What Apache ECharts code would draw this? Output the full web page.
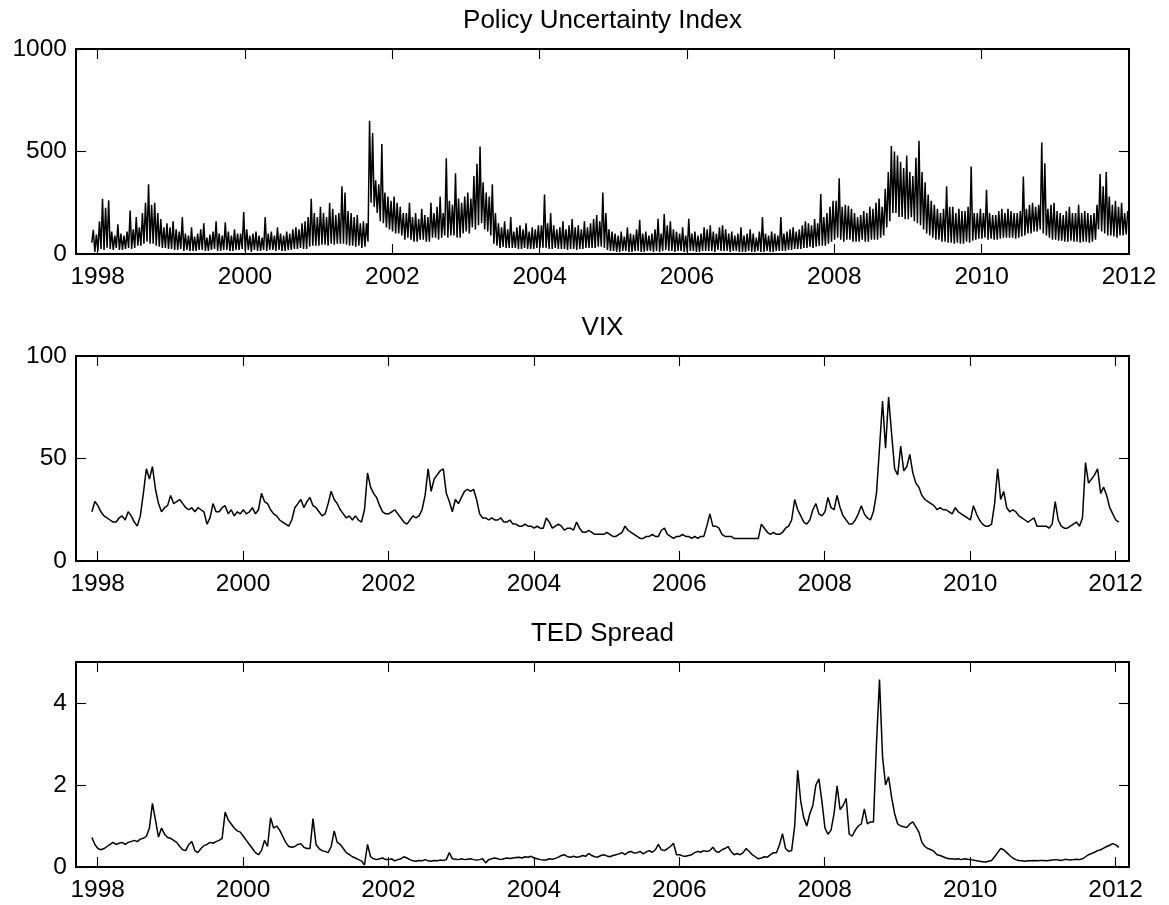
<!DOCTYPE html>
<html>
<head>
<meta charset="utf-8">
<title>Policy Uncertainty Index, VIX, TED Spread</title>
<script src="https://cdn.jsdelivr.net/npm/echarts@6/dist/echarts.min.js"></script>
<style>
  html, body { margin: 0; padding: 0; background: #fff; }
  #chart { width: 1169px; height: 905px; }
</style>
</head>
<body>
<div id="chart"></div>
<script>
  // samples are half-monthly, starting December 1997
  var startYear = 1997.92;
  var perYear = 24;

  var titles = ['Policy Uncertainty Index', 'VIX', 'TED Spread'];
  var yearTicks = [1998, 2000, 2002, 2004, 2006, 2008, 2010, 2012];
  var epuTicks = [0, 500, 1000];
  var vixTicks = [0, 50, 100];
  var tedTicks = [0, 2, 4];

  /* policy uncertainty: bottom and top of the daily band, per half month */
  var epuLow = [
    55, 10,
    15, 25, 20, 30, 25, 20, 30, 20, 20, 25, 30, 25, 30, 40, 40, 50, 60, 50, 50, 40, 35, 30, 30, 25,
    25, 20, 20, 25, 15, 20, 15, 15, 15, 20, 20, 15, 15, 20, 25, 15, 15, 20, 20, 15, 15, 20, 20, 25,
    15, 20, 10, 20, 15, 15, 20, 15, 20, 20, 15, 20, 15, 15, 20, 20, 25, 25, 30, 25, 25, 35, 40, 40,
    40, 45, 45, 40, 50, 45, 50, 50, 50, 45, 40, 40, 35, 40, 30, 35, 60, 250, 230, 200, 160, 150, 130, 120,
    110, 100, 100, 90, 70, 80, 70, 60, 60, 70, 70, 60, 60, 80, 80, 70, 80, 90, 80, 90, 90, 80, 80, 100,
    110, 100, 130, 120, 140, 150, 120, 110, 90, 50, 40, 30, 35, 30, 30, 30, 30, 25, 25, 30, 25, 25, 25, 30,
    30, 30, 30, 25, 25, 30, 25, 25, 25, 20, 25, 25, 20, 25, 25, 30, 30, 30, 30, 35, 35, 30, 20, 15,
    15, 10, 10, 15, 15, 10, 10, 15, 15, 10, 10, 15, 15, 10, 15, 10, 15, 20, 15, 15, 10, 15, 15, 10,
    10, 15, 15, 10, 10, 15, 15, 15, 15, 10, 20, 15, 15, 15, 10, 15, 15, 10, 10, 10, 15, 10, 10, 15,
    10, 10, 15, 10, 10, 15, 15, 15, 15, 20, 20, 25, 25, 25, 30, 30, 35, 30, 35, 40, 40, 40, 50, 60,
    70, 80, 70, 60, 70, 70, 60, 60, 60, 70, 60, 60, 70, 70, 70, 80, 90, 130, 160, 200, 200, 180, 180, 170,
    170, 180, 160, 150, 140, 120, 100, 90, 80, 70, 70, 60, 60, 55, 55, 50, 55, 50, 50, 60, 55, 65, 70, 75,
    75, 80, 70, 75, 70, 70, 75, 80, 80, 80, 80, 75, 80, 85, 90, 100, 100, 110, 110, 120, 100, 90, 80, 70,
    70, 65, 65, 60, 60, 65, 60, 60, 55, 60, 60, 55, 60, 70, 120, 110, 100, 90, 90, 85, 80, 90, 90, 95
  ];
  var epuHigh = [
    118, 95,
    160, 270, 225, 262, 110, 90, 145, 100, 90, 110, 212, 120, 180, 130, 200, 250, 340, 240, 250, 200, 170, 130, 150, 130,
    160, 120, 110, 180, 100, 90, 130, 85, 100, 120, 150, 80, 95, 110, 160, 100, 90, 155, 110, 90, 120, 100, 100, 205,
    120, 90, 100, 110, 90, 80, 180, 100, 110, 90, 130, 100, 90, 110, 100, 120, 130, 120, 150, 160, 180, 270, 200, 180,
    230, 200, 180, 250, 220, 190, 200, 330, 300, 210, 200, 180, 190, 150, 160, 150, 650, 590, 360, 340, 537, 300, 280, 260,
    280, 250, 230, 200, 200, 250, 180, 200, 170, 220, 190, 180, 250, 200, 230, 280, 200, 467, 260, 240, 394, 270, 250, 280,
    300, 270, 380, 440, 524, 350, 300, 280, 340, 200, 150, 130, 160, 120, 180, 110, 130, 140, 120, 150, 110, 130, 120, 140,
    140, 290, 150, 200, 140, 120, 130, 160, 120, 140, 170, 130, 140, 120, 160, 130, 150, 170, 190, 160, 300, 200, 120, 110,
    100, 90, 110, 85, 130, 100, 95, 120, 167, 100, 110, 90, 100, 120, 172, 100, 195, 140, 160, 120, 110, 100, 130, 90,
    172, 100, 110, 90, 100, 130, 120, 140, 110, 100, 130, 140, 120, 100, 110, 90, 100, 130, 90, 100, 120, 100, 80, 110,
    180, 100, 90, 110, 100, 90, 180, 100, 110, 120, 130, 110, 120, 140, 160, 150, 140, 170, 150, 292, 180, 200, 230, 260,
    260, 370, 230, 240, 235, 220, 200, 180, 190, 210, 200, 230, 220, 250, 270, 230, 318, 400, 527, 500, 480, 450, 420, 480,
    400, 380, 470, 552, 400, 350, 290, 260, 240, 220, 200, 220, 330, 230, 230, 200, 220, 210, 210, 230, 427, 200, 200, 220,
    200, 313, 200, 190, 190, 210, 220, 200, 220, 210, 200, 200, 210, 378, 220, 240, 250, 230, 240, 544, 443, 220, 240, 250,
    210, 200, 190, 210, 230, 200, 200, 240, 200, 210, 200, 190, 200, 240, 390, 330, 400, 280, 240, 260, 230, 250, 200, 210
  ];

  /* VIX, half-monthly, Dec 1997 - Jan 2012 */
  var vix = [
    24, 29,
    27, 24, 22, 21, 20, 19, 19, 21, 22, 20, 24, 22, 19, 17, 22, 33, 45, 40, 46, 35, 28, 24, 26, 27,
    32, 28, 29, 30, 28, 26, 25, 26, 24, 26, 25, 24, 18, 21, 28, 24, 24, 26, 27, 23, 25, 22, 24, 23,
    25, 23, 24, 26, 23, 25, 33, 29, 28, 25, 23, 22, 20, 19, 18, 17, 20, 26, 28, 30, 26, 29, 31, 27,
    26, 24, 22, 23, 28, 34, 30, 28, 25, 23, 21, 22, 20, 22, 20, 19, 25, 43, 36, 33, 31, 27, 24, 23,
    23, 24, 25, 23, 21, 19, 18, 20, 22, 21, 22, 25, 32, 45, 34, 40, 42, 44, 45, 33, 29, 24, 30, 28,
    31, 34, 35, 34, 35, 30, 23, 21, 21, 20, 21, 20, 20, 21, 19, 19, 20, 18, 18, 17, 17, 18, 17, 17,
    16, 17, 16, 16, 21, 19, 16, 17, 18, 17, 15, 16, 16, 15, 19, 16, 14, 14, 15, 14, 13, 13, 13, 13,
    14, 13, 12, 12, 13, 14, 17, 15, 14, 13, 12, 11, 11, 12, 12, 13, 12, 12, 15, 16, 13, 12, 11, 12,
    12, 13, 12, 12, 11, 12, 11, 12, 12, 17, 23, 17, 17, 16, 13, 12, 12, 12, 11, 11, 11, 11, 11, 11,
    11, 11, 11, 18, 16, 14, 13, 14, 13, 13, 14, 16, 17, 20, 30, 25, 22, 19, 18, 20, 25, 28, 23, 22,
    24, 31, 26, 25, 32, 26, 22, 20, 18, 18, 20, 23, 27, 23, 21, 20, 24, 33, 55, 78, 55, 80, 62, 45,
    42, 56, 44, 46, 52, 43, 38, 36, 32, 30, 29, 28, 27, 25, 26, 25, 25, 24, 23, 26, 24, 23, 22, 21,
    20, 27, 23, 20, 18, 17, 17, 18, 28, 45, 30, 34, 26, 24, 25, 24, 22, 21, 20, 19, 20, 21, 17, 17,
    17, 17, 16, 18, 29, 20, 17, 16, 16, 17, 18, 19, 17, 21, 48, 38, 40, 42, 45, 33, 36, 32, 26, 23,
    20, 19
  ];

  /* TED spread, half-monthly, Dec 1997 - Jan 2012 */
  var ted = [
    0.72, 0.55,
    0.45, 0.42, 0.45, 0.5, 0.55, 0.6, 0.55, 0.58, 0.6, 0.55, 0.6, 0.62, 0.65, 0.62, 0.68, 0.7, 0.75, 0.95, 1.55, 1.15, 0.73, 0.95, 0.8, 0.72,
    0.7, 0.65, 0.6, 0.5, 0.42, 0.4, 0.55, 0.62, 0.4, 0.35, 0.45, 0.52, 0.55, 0.6, 0.58, 0.62, 0.65, 0.7, 1.34, 1.15, 1.05, 0.95, 0.88, 0.85,
    0.75, 0.65, 0.55, 0.45, 0.35, 0.3, 0.4, 0.65, 0.5, 1.2, 0.95, 1.0, 0.9, 0.75, 0.6, 0.5, 0.48, 0.5, 0.55, 0.57, 0.48, 0.45, 0.45, 1.18,
    0.55, 0.45, 0.4, 0.38, 0.35, 0.5, 0.88, 0.6, 0.55, 0.45, 0.35, 0.3, 0.25, 0.22, 0.18, 0.15, 0.05, 0.55, 0.25, 0.2, 0.18, 0.2, 0.22, 0.18,
    0.18, 0.2, 0.15, 0.18, 0.2, 0.25, 0.22, 0.18, 0.15, 0.14, 0.16, 0.15, 0.18, 0.15, 0.14, 0.16, 0.15, 0.17, 0.16, 0.18, 0.35, 0.2, 0.19, 0.18,
    0.2, 0.18, 0.19, 0.2, 0.18, 0.17, 0.18, 0.2, 0.1, 0.18, 0.2, 0.22, 0.2, 0.18, 0.2, 0.22, 0.21, 0.22, 0.23, 0.24, 0.22, 0.25, 0.24, 0.26,
    0.22, 0.2, 0.18, 0.17, 0.17, 0.2, 0.19, 0.21, 0.24, 0.28, 0.3, 0.25, 0.24, 0.26, 0.24, 0.25, 0.28, 0.26, 0.33, 0.28, 0.25, 0.24, 0.28, 0.3,
    0.27, 0.25, 0.28, 0.3, 0.32, 0.35, 0.3, 0.36, 0.38, 0.34, 0.35, 0.38, 0.32, 0.37, 0.4, 0.36, 0.42, 0.55, 0.42, 0.4, 0.45, 0.5, 0.58, 0.3,
    0.3, 0.27, 0.26, 0.28, 0.3, 0.35, 0.38, 0.36, 0.4, 0.38, 0.4, 0.48, 0.38, 0.36, 0.42, 0.45, 0.5, 0.38, 0.3, 0.33, 0.3, 0.35, 0.45, 0.38,
    0.3, 0.25, 0.2, 0.22, 0.25, 0.24, 0.3, 0.35, 0.35, 0.55, 0.81, 0.45, 0.38, 0.4, 1.0, 2.36, 1.6, 1.2, 1.0, 1.3, 1.5, 2.0, 2.15, 1.6,
    0.95, 0.8, 0.9, 1.3, 1.98, 1.4, 1.5, 1.67, 0.8, 0.75, 0.9, 1.0, 1.05, 1.42, 1.05, 1.1, 1.1, 3.0, 4.57, 2.7, 2.0, 2.2, 1.7, 1.3,
    1.05, 1.0, 0.98, 0.96, 1.05, 1.1, 0.98, 0.85, 0.6, 0.5, 0.45, 0.42, 0.38, 0.3, 0.28, 0.25, 0.22, 0.2, 0.2, 0.19, 0.2, 0.18, 0.2, 0.19,
    0.18, 0.17, 0.15, 0.14, 0.13, 0.12, 0.14, 0.16, 0.25, 0.35, 0.45, 0.42, 0.35, 0.28, 0.22, 0.18, 0.16, 0.15, 0.14, 0.15, 0.15, 0.16, 0.15, 0.16,
    0.16, 0.15, 0.16, 0.17, 0.18, 0.17, 0.16, 0.18, 0.18, 0.17, 0.18, 0.19, 0.18, 0.2, 0.25, 0.3, 0.33, 0.36, 0.4, 0.42, 0.46, 0.5, 0.53, 0.57,
    0.54, 0.48
  ];

  /* low and high of each half month, one after the other */
  function bandSeries(low, high) {
    var out = [];
    low.forEach(function (lo, i) {
      out.push([startYear + i / perYear, lo]);
      out.push([startYear + (i + 0.5) / perYear, high[i]]);
    });
    return out;
  }

  function toSeries(values) {
    return values.map(function (v, i) {
      return [startYear + i / perYear, v];
    });
  }

  var font = 'Liberation Sans';
  var gridTops = [49, 356, 662];
  var xRanges = [[1997.706, 2012.0], [1997.702, 2012.185], [1997.702, 2012.185]];
  var yRanges = [[0, 1000], [0, 100], [0, 5]];
  var yTickSets = [epuTicks, vixTicks, tedTicks];

  var grids = [], xAxes = [], yAxes = [], graphics = [];

  gridTops.forEach(function (top, i) {

    grids.push({
      left: 76, top: top, width: 1053, height: 205,
      show: true, borderColor: '#000', borderWidth: 2,
      backgroundColor: 'transparent'
    });

    ['bottom', 'top'].forEach(function (pos) {
      xAxes.push({
        type: 'value', gridIndex: i, position: pos,
        min: xRanges[i][0], max: xRanges[i][1],
        splitLine: {show: false},
        axisLine: {show: true, onZero: false, lineStyle: {color: '#000', width: 2}},
        axisTick: {
          show: true, inside: true, length: 10, customValues: yearTicks,
          lineStyle: {color: '#000', width: 1.1}
        },
        axisLabel: {
          show: pos === 'bottom', customValues: yearTicks, margin: 11,
          color: '#000', fontSize: 24.5, fontFamily: font,
          formatter: function (v) { return String(v); }
        }
      });
    });

    ['left', 'right'].forEach(function (pos) {
      yAxes.push({
        type: 'value', gridIndex: i, position: pos,
        min: yRanges[i][0], max: yRanges[i][1],
        splitLine: {show: false},
        axisLine: {show: true, onZero: false, lineStyle: {color: '#000', width: 2}},
        axisTick: {
          show: true, inside: true, length: 10, customValues: yTickSets[i],
          lineStyle: {color: '#000', width: 1.1}
        },
        axisLabel: {
          show: pos === 'left', customValues: yTickSets[i], margin: 9,
          color: '#000', fontSize: 24.5, fontFamily: font,
          formatter: function (v) { return String(v); }
        }
      });
    });

    /* panel title, centred over the axes box */
    graphics.push({
      type: 'text', x: 602.5, y: top - 28,
      style: {
        text: titles[i], fill: '#000', fontSize: 26, fontFamily: font,
        align: 'center', verticalAlign: 'middle'
      }
    });
  });

  function lineSeries(idx, data, width) {
    return {
      type: 'line', xAxisIndex: idx * 2, yAxisIndex: idx * 2,
      data: data, symbol: 'none', showSymbol: false, silent: true,
      lineStyle: {color: '#000', width: width},
      animation: false
    };
  }

  var chart = echarts.init(document.getElementById('chart'));

  chart.setOption({
    backgroundColor: '#fff',
    animation: false,
    grid: grids,
    xAxis: xAxes,
    yAxis: yAxes,
    graphic: graphics,
    series: [
      lineSeries(0, bandSeries(epuLow, epuHigh), 1.5),
      lineSeries(1, toSeries(vix), 1.5),
      lineSeries(2, toSeries(ted), 1.5)
    ]
  });
</script>
</body>
</html>
